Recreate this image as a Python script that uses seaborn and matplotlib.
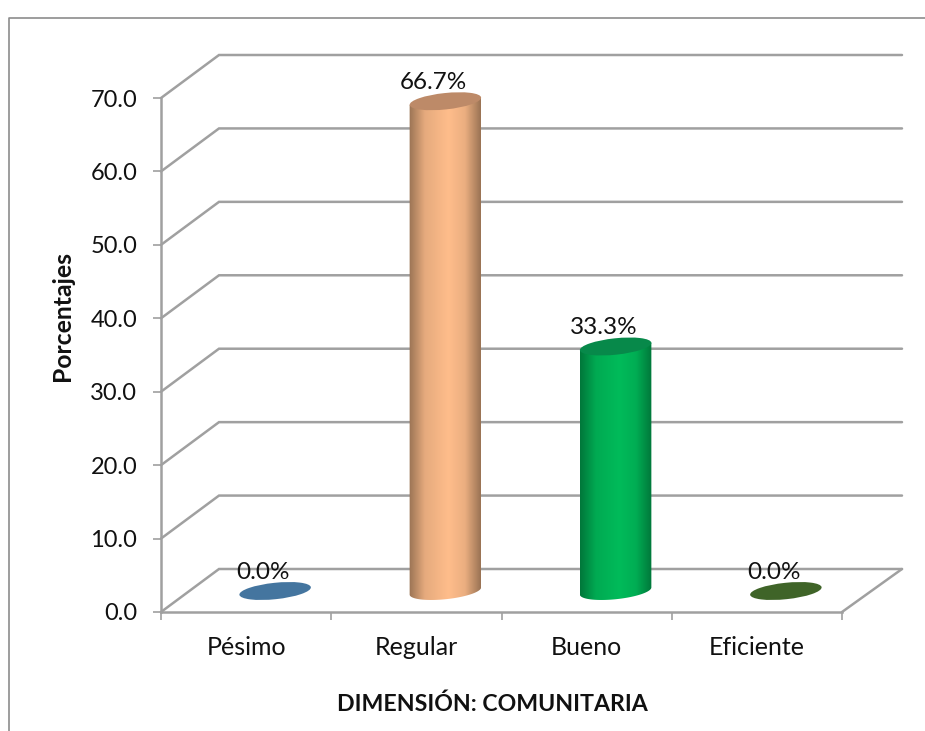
import numpy as np
import pandas as pd
import matplotlib
matplotlib.use("Agg")
import matplotlib.pyplot as plt
from matplotlib.lines import Line2D
from matplotlib.patches import Ellipse, PathPatch
from matplotlib.path import Path
from matplotlib.transforms import IdentityTransform
import seaborn as sns

categories = ["Pésimo", "Regular", "Bueno", "Eficiente"]
percentages = [0.0, 66.7, 33.3, 0.0]
y_ticks = [0, 10, 20, 30, 40, 50, 60, 70]
x_title = "DIMENSIÓN: COMUNITARIA"
y_title = "Porcentajes"

# Cylinder shading: side edge, side centre, top cap
edge_colors = ["#35597a", "#9a7354", "#00773a", "#2f4b1e"]
mid_colors = ["#4a7ba7", "#ffbd8b", "#00bb5a", "#4f7a32"]
cap_colors = ["#44759f", "#bd8a68", "#07894a", "#3f6428"]

GRID = "#a0a0a0"
INK = "#111111"

W, H, DPI = 925, 731, 100
sns.set_theme(style="white")
plt.rcParams["font.family"] = ["Lato", "DejaVu Sans"]


def ax_rect(left, right, top, bottom):
    return [left / W, 1 - bottom / H, (right - left) / W, (bottom - top) / H]


fig = plt.figure(figsize=(W / DPI, H / DPI), dpi=DPI, facecolor="white")

# Chart area frame: top and left edges only
fig.add_artist(Line2D([8.5 / W, 8.5 / W, 1], [0, 1 - 17.5 / H, 1 - 17.5 / H],
                      color="#8c8c8c", lw=1.2, transform=fig.transFigure))

# Front plane of the 3D box carries the axes
ax = fig.add_axes(ax_rect(161, 842, 98, 612))
ax.set_xlim(-0.5, 3.5)
ax.set_ylim(0, 70)
ax.set_facecolor("none")
ax.set_yticks(y_ticks)
ax.set_yticklabels([f"{v:.1f}" for v in y_ticks], fontsize=17, color=INK,
                   va="center_baseline")
ax.set_xticks(np.arange(-0.5, 4.0, 1.0))
ax.set_xticklabels([])
ax.set_xticks(range(len(categories)), categories, minor=True, fontsize=18, color=INK)
ax.tick_params(axis="both", which="major", length=6, width=1.2, color=GRID,
               left=True, bottom=True)
ax.tick_params(axis="y", which="major", pad=11)
ax.tick_params(axis="x", which="minor", length=0, bottom=False, pad=17)
sns.despine(ax=ax, top=True, right=True)
for side in ("left", "bottom"):
    ax.spines[side].set_color(GRID)
    ax.spines[side].set_linewidth(1.8)

# Depth of the box, in data units of each axis
depth_x = 58 / (681 / 4)
depth_y = 43 / (514 / 70)
back_right = 3.5 + 60 / (681 / 4)
for v in y_ticks:
    ax.plot([-0.5, -0.5 + depth_x, back_right], [v, v + depth_y, v + depth_y],
            color=GRID, lw=1.8, clip_on=False, zorder=1, solid_joinstyle="miter")
ax.plot([3.5, back_right], [0, depth_y], color=GRID, lw=1.8, clip_on=False, zorder=1)

ax.set_xlabel(x_title, fontsize=16.7, fontweight="bold", color=INK, va="center")
ax.set_ylabel(y_title, fontsize=17.8, fontweight="bold", color=INK, va="center")
ax.xaxis.set_label_coords((492 - 161) / 681, (612 - 704.5) / 514)
ax.yaxis.set_label_coords((62 - 161) / 681, (612 - 316) / 514)

# Bars stand midway along the floor depth, so they get a shifted overlay axes
bar_ax = fig.add_axes(ax_rect(190, 871, 77, 591))
bar_ax.patch.set_alpha(0)
frame = pd.DataFrame({"categoria": categories, "porcentaje": percentages})
sns.barplot(data=frame, x="categoria", y="porcentaje", hue="categoria",
            order=categories, hue_order=categories, palette=mid_colors,
            width=0.422, legend=False, ax=bar_ax, saturation=1)
bar_ax.set_xlim(-0.5, 3.5)
bar_ax.set_ylim(0, 70)
bar_ax.axis("off")

TILT = np.deg2rad(6.0)
MINOR = 8.2


def ring(cx, cy, semi, t):
    """Points of a tilted ellipse in pixels."""
    x = semi * np.cos(t)
    y = MINOR * np.sin(t)
    return (cx + x * np.cos(TILT) - y * np.sin(TILT),
            cy + x * np.sin(TILT) + y * np.cos(TILT))


fig.canvas.draw()
for patch, value, edge, mid, cap in zip(bar_ax.patches, percentages,
                                        edge_colors, mid_colors, cap_colors):
    x0, width = patch.get_x(), patch.get_width()
    left_px, base_px = bar_ax.transData.transform((x0, 0))
    right_px, top_px = bar_ax.transData.transform((x0 + width, value))
    cx = (left_px + right_px) / 2
    semi = (right_px - left_px) / 2
    patch.set_visible(False)

    if value > 0:
        # Side of the cylinder: horizontal shading clipped to its outline
        t_low = np.linspace(np.pi, 2 * np.pi, 60)
        bx, by = ring(cx, base_px, semi, t_low)
        tx0, ty0 = ring(cx, top_px, semi, np.pi)
        tx1, ty1 = ring(cx, top_px, semi, 0.0)
        outline = Path([(tx0, ty0)] + list(zip(bx, by)) + [(tx1, ty1), (tx0, ty0)])
        stops = np.array([0.0, 0.22, 0.55, 0.78, 1.0])
        rgb = np.array([matplotlib.colors.to_rgb(c) for c in (edge, mid, mid, mid, edge)])
        rgb[1] = 0.25 * rgb[0] + 0.75 * rgb[2]
        rgb[3] = 0.2 * rgb[0] + 0.8 * rgb[2]
        u = np.linspace(0, 1, 200)
        shade = np.stack([np.interp(u, stops, rgb[:, i]) for i in range(3)], axis=1)[None, :, :]
        im = bar_ax.imshow(shade, extent=(x0, x0 + width, -4, value + 4), aspect="auto",
                           interpolation="bilinear", zorder=3)
        clip = PathPatch(outline, transform=IdentityTransform(), fc="none", ec="none")
        bar_ax.add_patch(clip)
        im.set_clip_box(fig.bbox)
        im.set_clip_path(clip)

    # Top cap of the cylinder
    cap_patch = Ellipse((cx, top_px), 2 * semi, 2 * MINOR, angle=np.rad2deg(TILT),
                        transform=IdentityTransform(), fc=cap, ec="none", zorder=4,
                        clip_on=False)
    bar_ax.add_patch(cap_patch)

    bar_ax.annotate(f"{value:.1f}%", xy=(x0 + width / 2, value),
                    xytext=(-12 * 0.72, 18.5 * 0.72), textcoords="offset points",
                    ha="center", va="center", fontsize=17.5, color=INK,
                    annotation_clip=False, zorder=5)

bar_ax.set_xlim(-0.5, 3.5)
bar_ax.set_ylim(0, 70)

fig.savefig("out.png", dpi=DPI, facecolor="white")
